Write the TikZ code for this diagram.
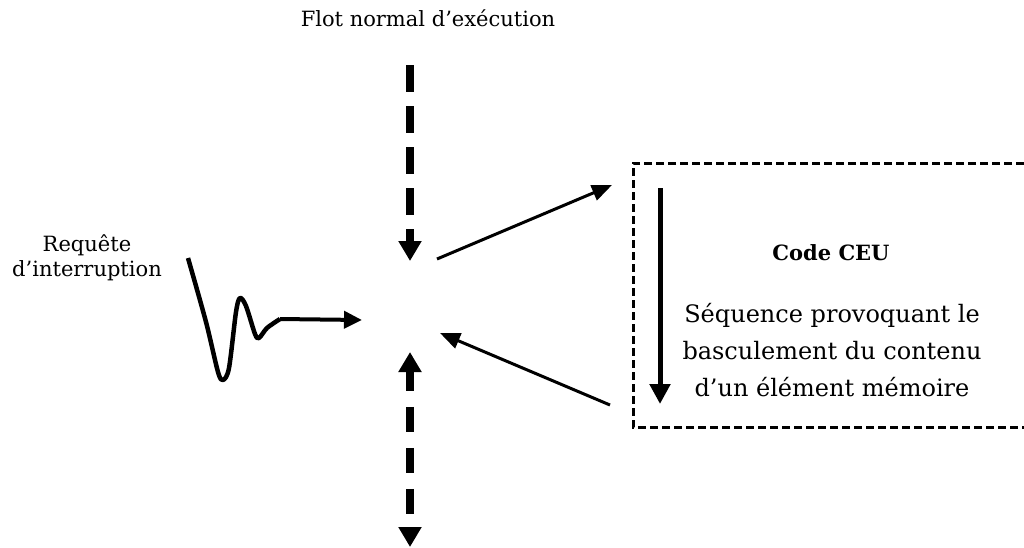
\documentclass[tikz,border=0pt]{standalone}
\usepackage{fontspec}
\setmainfont{DejaVu Serif}
\usetikzlibrary{arrows.meta}

\tikzset{
  flow/.style={line width=8pt, -{Triangle[length=20pt,width=22pt]}},
  link/.style={line width=3pt, -{Triangle[length=20pt,width=16pt]}},
  label/.style={font=\fontsize{21}{25}\selectfont, align=center},
  boxtext/.style={font=\fontsize{24}{37}\selectfont, align=center}
}

\begin{document}
\begin{tikzpicture}[x=1pt, y=-1pt]
\useasboundingbox (0,0) rectangle (1024,547);

\node (title) at (428, 18) [label] {Flot normal d'exécution};
\node (irq) at (87, 258) [label] {Requête\\d'interruption};

\coordinate (flowtop) at (410, 65);
\coordinate (flowin) at (410, 261);
\coordinate (flowout) at (410, 352);
\coordinate (flowbottom) at (410, 547);

\draw [flow, dash pattern=on 27pt off 14pt] (flowtop) -- (flowin);
\draw [flow, {Triangle[length=20pt,width=22pt]}-{Triangle[length=20pt,width=22pt]}, dash pattern=on 25pt off 16pt, dash phase=5pt] (flowout) -- (flowbottom);

% signal
\coordinate (wavestart) at (188, 258);
\coordinate (waveend) at (280, 319);
\coordinate (irqin) at (362, 320);
\draw [line width=4.5pt, line join=round] plot [smooth, tension=0.5] coordinates {(wavestart) (206, 322) (218, 372) (223, 380) (229, 368) (236, 312) (240, 298) (246, 306) (255, 334) (259, 338) (267, 328) (waveend)};
\draw [line width=4pt, -{Triangle[length=18pt,width=17pt]}] (waveend) -- (irqin);

% CEU code
\draw [line width=3pt, dash pattern=on 8pt off 4pt] (1024, 163) -- (633, 163) -- (633, 427) -- (1024, 427);

\coordinate (ceutop) at (660, 188);
\coordinate (ceubottom) at (660, 404);
\draw [line width=5pt, -{Triangle[length=20pt,width=20pt]}] (ceutop) -- (ceubottom);

\node (ceu) at (831, 253) [boxtext, font=\fontsize{21}{25}\selectfont\bfseries] {Code CEU};
\node (seq) at (832, 350) [boxtext] {Séquence provoquant le\\basculement du contenu\\d'un élément mémoire};

\coordinate (callfrom) at (437, 259);
\coordinate (callto) at (612, 185);
\coordinate (retfrom) at (610, 405);
\coordinate (retto) at (440, 333);
\draw [link] (callfrom) -- (callto);
\draw [link] (retfrom) -- (retto);
\end{tikzpicture}
\end{document}
